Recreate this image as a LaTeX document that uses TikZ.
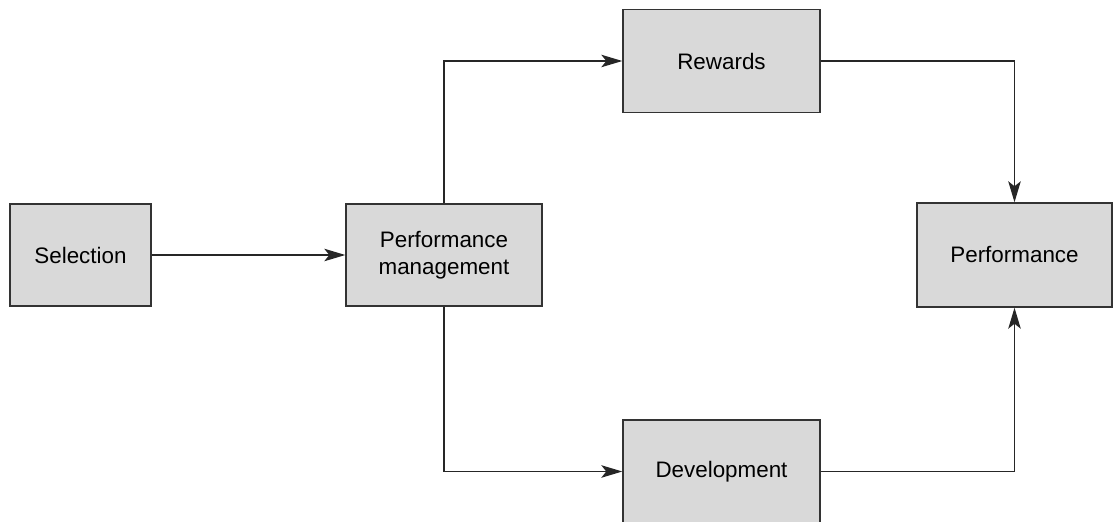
\documentclass[tikz,border=0pt]{standalone}
\usepackage{fontspec}
\setmainfont{Liberation Sans}
\usetikzlibrary{arrows.meta}
\definecolor{boxfill}{HTML}{D9D9D9}
\definecolor{boxline}{HTML}{333333}
\begin{document}
\begin{tikzpicture}[x=1pt,y=1pt,
  blockbox/.style={draw=boxline,fill=boxfill,line width=1.4pt,inner sep=0pt,
    align=center,font=\fontsize{22.4}{27}\selectfont},
  conn/.style={draw=black!85,line width=1.3pt,-{Stealth[length=21pt,width=12.5pt,inset=5pt]}},
  plainconn/.style={draw=black!85,line width=1.3pt}]
\useasboundingbox (0,0) rectangle (1114,522);
\clip (0,0) rectangle (1114,522);
\node[blockbox,minimum width=141pt,minimum height=102pt] (sel) at (80.5,267) {Selection};
\node[blockbox,minimum width=196pt,minimum height=102pt] (pm) at (444,267) {Performance\\management};
\node[blockbox,minimum width=197pt,minimum height=103pt] (rew) at (721.5,461) {Rewards};
\node[blockbox,minimum width=195pt,minimum height=104pt] (perf) at (1014.5,267) {Performance};
\node[blockbox,minimum width=197pt,minimum height=103pt] (dev) at (721.5,50.5) {Development};
\draw[conn] (sel.east) -- (pm.west);
\draw[conn] (pm.north) |- (rew.west);
\draw[conn] (pm.south) |- (dev.west);
\draw[conn] (rew.east) -| (perf.north);
\draw[conn] (dev.east) -| (perf.south);
\end{tikzpicture}
\end{document}
